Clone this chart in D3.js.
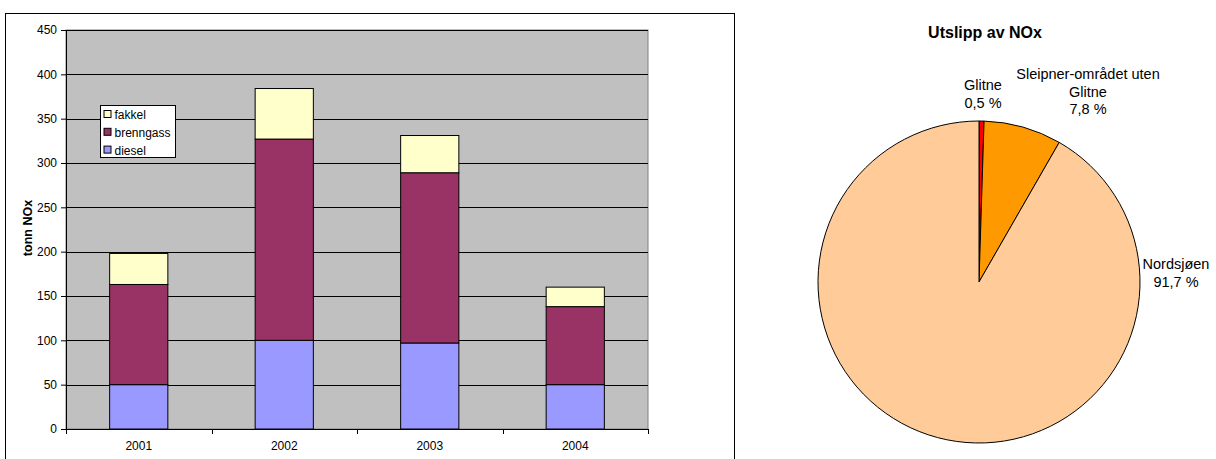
<!DOCTYPE html>
<html>
<head>
<meta charset="utf-8">
<script src="https://cdn.jsdelivr.net/npm/d3@7"></script>
<style>
  html, body { margin: 0; padding: 0; background: #fff; }
  svg { display: block; font-family: Arial, "Liberation Sans", sans-serif; }
</style>
</head>
<body>
<svg id="chart" width="1216" height="459"></svg>
<script>
// NOx emissions by source, tonnes per year
const years = ["2001", "2002", "2003", "2004"];
const diesel = [50, 100, 97, 50];
const brenngass = [113, 227, 192, 88];
const fakkel = [35, 57, 42, 22];
const seriesNames = ["diesel", "brenngass", "fakkel"];
const seriesColors = ["#9999FF", "#993366", "#FFFFCC"];
const yTicks = [0, 50, 100, 150, 200, 250, 300, 350, 400, 450];

// Share of NOx emissions by area
const pieLabels = [["Glitne", "0,5 %"], ["Sleipner-området uten", "Glitne", "7,8 %"], ["Nordsjøen", "91,7 %"]];
const pieShares = [0.5, 7.8, 91.7];
const pieColors = ["#FF0000", "#FF9900", "#FFCC99"];

const svg = d3.select("#chart");
const FS = 12;

// ---- Stacked bar chart ----
svg.append("rect").attr("x", 5.5).attr("y", 13.5).attr("width", 729).attr("height", 460)
  .attr("fill", "#fff").attr("stroke", "#000").attr("stroke-width", 1);

const plot = { left: 66, right: 648, top: 30, bottom: 429 };
const x = d3.scaleBand().domain(years).range([plot.left, plot.right]).paddingInner(0.6).paddingOuter(0.3);
const xOuter = d3.scaleBand().domain(years).range([plot.left, plot.right]);
const y = d3.scaleLinear().domain([0, 450]).range([plot.bottom, plot.top]);

svg.append("rect").attr("x", plot.left).attr("y", plot.top)
  .attr("width", plot.right - plot.left).attr("height", plot.bottom - plot.top)
  .attr("fill", "#C0C0C0").attr("stroke", "#808080").attr("stroke-width", 1);

// horizontal gridlines
svg.append("g").selectAll("line").data(yTicks.slice(1)).join("line")
  .attr("x1", plot.left).attr("x2", plot.right)
  .attr("y1", d => Math.round(y(d)) + 0.5).attr("y2", d => Math.round(y(d)) + 0.5)
  .attr("stroke", "#000").attr("stroke-width", 1);

const rows = years.map((yr, i) => ({ year: yr, diesel: diesel[i], brenngass: brenngass[i], fakkel: fakkel[i] }));
const stack = d3.stack().keys(seriesNames)(rows);

svg.append("g").selectAll("g").data(stack).join("g")
  .attr("fill", (d, i) => seriesColors[i])
  .selectAll("rect").data(d => d).join("rect")
  .attr("x", d => x(d.data.year))
  .attr("y", d => y(d[1]))
  .attr("width", x.bandwidth())
  .attr("height", d => y(d[0]) - y(d[1]))
  .attr("stroke", "#000").attr("stroke-width", 1);

// y axis
const yAxis = svg.append("g").attr("transform", `translate(${plot.left},0)`)
  .call(d3.axisLeft(y).tickValues(yTicks).tickSize(5).tickPadding(4).tickSizeOuter(0));
yAxis.select(".domain").attr("stroke", "#000");
yAxis.selectAll("line").attr("stroke", "#000");
yAxis.selectAll("text").attr("font-size", FS).attr("fill", "#000")
  .attr("font-family", "Arial, 'Liberation Sans', sans-serif");

// x axis with ticks between categories
const xAxisG = svg.append("g").attr("transform", `translate(0,${plot.bottom})`);
xAxisG.append("line").attr("x1", plot.left).attr("x2", plot.right).attr("y1", 0.5).attr("y2", 0.5).attr("stroke", "#000");
const bounds = years.map(d => xOuter(d)).concat([plot.right]);
xAxisG.selectAll("line.tk").data(bounds).join("line").attr("class", "tk")
  .attr("x1", d => Math.round(d) + 0.5).attr("x2", d => Math.round(d) + 0.5)
  .attr("y1", 0).attr("y2", 5).attr("stroke", "#000");
xAxisG.selectAll("text").data(years).join("text")
  .attr("x", d => xOuter(d) + xOuter.bandwidth() / 2).attr("y", 21)
  .attr("text-anchor", "middle").attr("font-size", FS).attr("fill", "#000").text(d => d);

// y axis title
svg.append("text").attr("transform", "translate(32,228) rotate(-90)")
  .attr("text-anchor", "middle").attr("font-size", 12.5).attr("font-weight", "bold").text("tonn NOx");

// legend
const lg = svg.append("g").attr("transform", "translate(100.5,105.5)");
lg.append("rect").attr("width", 75).attr("height", 52).attr("fill", "#fff").attr("stroke", "#000");
const legendOrder = [2, 1, 0];
legendOrder.forEach((si, k) => {
  const ly = 9 + k * 17.8;
  lg.append("rect").attr("x", 3.5).attr("y", ly - 4).attr("width", 7).attr("height", 7)
    .attr("fill", seriesColors[si]).attr("stroke", "#000");
  lg.append("text").attr("x", 14).attr("y", ly + 4.5).attr("font-size", FS).text(seriesNames[si]);
});

// ---- Pie chart ----
svg.append("text").attr("x", 985).attr("y", 38).attr("text-anchor", "middle")
  .attr("font-size", 16).attr("font-weight", "bold").text("Utslipp av NOx");

const cx = 979, cy = 282, r = 161;
const pie = d3.pie().sort(null).value(d => d)(pieShares);
const arc = d3.arc().innerRadius(0).outerRadius(r);
svg.append("g").attr("transform", `translate(${cx},${cy})`)
  .selectAll("path").data(pie).join("path")
  .attr("d", arc).attr("fill", (d, i) => pieColors[i])
  .attr("stroke", "#000").attr("stroke-width", 1);

const labelPos = [[983, 90], [1088, 79], [1176, 269]];
pieLabels.forEach((lines, i) => {
  const t = svg.append("text").attr("text-anchor", "middle").attr("font-size", 14.5);
  lines.forEach((ln, j) => {
    t.append("tspan").attr("x", labelPos[i][0]).attr("y", labelPos[i][1] + j * 17.7).text(ln);
  });
});
</script>
</body>
</html>
